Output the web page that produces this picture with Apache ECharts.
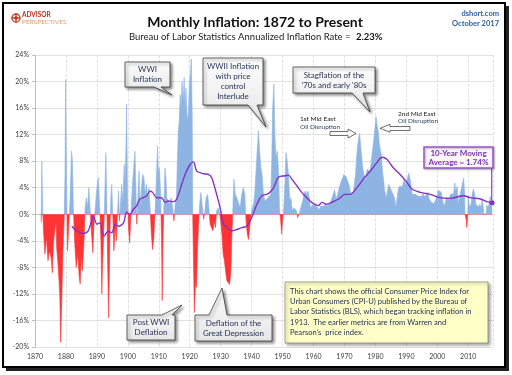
<!DOCTYPE html>
<html>
<head>
<meta charset="utf-8">
<script src="https://cdn.jsdelivr.net/npm/echarts/dist/echarts.min.js"></script>
<style>
  html, body { margin: 0; padding: 0; background: #fff; }
  #chart { width: 512px; height: 375px; }
</style>
</head>
<body>
<div id="chart"></div>
<script>
// monthly yoy inflation (fractional years)
const infYears = [
  1872.0, 1872.2, 1872.5, 1872.8, 1873.2, 1873.7, 1874.2, 1874.6, 1875.2, 1875.6,
  1876.0, 1876.4, 1876.8, 1877.0, 1877.5, 1878.0, 1878.3, 1878.7, 1879.0, 1879.4,
  1879.7, 1879.9, 1880.2, 1880.5, 1880.9, 1881.3, 1881.8, 1882.1, 1882.4, 1882.8,
  1883.3, 1883.8, 1884.3, 1884.6, 1885.0, 1885.3, 1885.8, 1886.2, 1886.6, 1887.0,
  1887.4, 1887.8, 1888.2, 1888.7, 1889.0, 1889.4, 1889.8, 1890.2, 1890.5, 1890.9,
  1891.3, 1891.6, 1891.8, 1892.2, 1892.5, 1892.9, 1893.2, 1893.5, 1893.8, 1894.2,
  1894.5, 1894.8, 1895.1, 1895.5, 1895.9, 1896.3, 1896.7, 1897.0, 1897.3, 1897.7,
  1898.0, 1898.4, 1898.8, 1899.1, 1899.4, 1899.6, 1899.9, 1900.2, 1900.6, 1900.9,
  1901.3, 1901.8, 1902.3, 1902.6, 1902.9, 1903.3, 1903.6, 1904.0, 1904.4, 1904.8,
  1905.2, 1905.6, 1906.0, 1906.4, 1906.8, 1907.2, 1907.6, 1908.0, 1908.4, 1908.8,
  1909.2, 1909.6, 1909.9, 1910.2, 1910.6, 1910.9, 1911.1, 1911.4, 1911.7, 1912.0,
  1912.3, 1912.6, 1913.0, 1913.5, 1914.0, 1914.5, 1914.9, 1915.3, 1915.7, 1916.0,
  1916.3, 1916.6, 1916.9, 1917.2, 1917.5, 1917.9, 1918.2, 1918.5, 1918.8, 1919.2,
  1919.6, 1919.9, 1920.2, 1920.5, 1920.8, 1921.0, 1921.5, 1921.9, 1922.2, 1922.5,
  1922.9, 1923.2, 1923.6, 1924.0, 1924.5, 1924.9, 1925.3, 1925.8, 1926.2, 1926.6,
  1927.0, 1927.5, 1928.0, 1928.3, 1928.7, 1929.2, 1929.6, 1930.0, 1930.4, 1930.8,
  1931.2, 1931.7, 1932.0, 1932.4, 1932.9, 1933.3, 1933.6, 1933.9, 1934.0, 1934.3,
  1934.7, 1935.2, 1935.7, 1936.3, 1936.8, 1937.3, 1937.8, 1938.2, 1938.6, 1939.0,
  1939.4, 1939.8, 1940.2, 1940.6, 1941.0, 1941.6, 1942.0, 1942.2, 1942.6, 1943.0,
  1943.4, 1943.8, 1944.3, 1944.8, 1945.3, 1945.8, 1946.2, 1946.5, 1946.8, 1947.2,
  1947.5, 1947.9, 1948.3, 1948.7, 1949.0, 1949.4, 1949.7, 1950.0, 1950.4, 1950.8,
  1951.1, 1951.5, 1951.9, 1952.3, 1952.7, 1953.1, 1953.6, 1954.0, 1954.5, 1954.9,
  1955.2, 1955.6, 1956.0, 1956.5, 1956.9, 1957.3, 1957.8, 1958.2, 1958.6, 1959.0,
  1959.5, 1959.9, 1960.3, 1960.8, 1961.3, 1961.8, 1962.3, 1962.8, 1963.3, 1963.8,
  1964.3, 1964.8, 1965.3, 1965.8, 1966.3, 1966.8, 1967.3, 1967.8, 1968.3, 1968.8,
  1969.3, 1969.8, 1970.2, 1970.6, 1971.0, 1971.5, 1971.9, 1972.4, 1972.9, 1973.3,
  1973.6, 1973.9, 1974.3, 1974.6, 1974.9, 1975.3, 1975.6, 1975.9, 1976.3, 1976.6,
  1976.9, 1977.3, 1977.7, 1978.2, 1978.6, 1978.9, 1979.3, 1979.6, 1979.9, 1980.2,
  1980.5, 1980.9, 1981.3, 1981.6, 1981.9, 1982.3, 1982.7, 1982.9, 1983.3, 1983.5,
  1983.9, 1984.3, 1984.7, 1985.2, 1985.7, 1986.2, 1986.6, 1986.9, 1987.3, 1987.7,
  1988.2, 1988.7, 1989.3, 1989.8, 1990.3, 1990.8, 1991.1, 1991.5, 1991.9, 1992.4,
  1992.9, 1993.4, 1993.9, 1994.4, 1994.9, 1995.4, 1995.9, 1996.4, 1996.9, 1997.4,
  1997.9, 1998.4, 1998.9, 1999.4, 1999.9, 2000.3, 2000.8, 2001.3, 2001.8, 2002.2,
  2002.6, 2003.0, 2003.5, 2003.9, 2004.4, 2004.8, 2005.2, 2005.7, 2005.9, 2006.4,
  2006.8, 2007.2, 2007.6, 2007.9, 2008.3, 2008.5, 2008.8, 2008.95, 2009.3, 2009.55,
  2009.8, 2010.0, 2010.4, 2010.9, 2011.3, 2011.7, 2012.1, 2012.5, 2012.9, 2013.3,
  2013.7, 2014.1, 2014.5, 2014.9, 2015.1, 2015.4, 2015.8, 2016.0, 2016.4, 2016.8,
  2017.1, 2017.4, 2017.7
];
const infValues = [
  -1.2, 8.0, 0.5, -3.0, -6.0, -3.5, -7.0, -5.5, -6.5, -8.8,
  -4.0, -2.5, -1.0, -5.0, -8.0, -12.0, -19.3, -12.0, -6.0, -1.0,
  6.0, 20.3, 5.0, -5.5, -2.0, 2.0, 9.5, 8.0, 1.0, -4.0,
  -8.0, -6.0, -9.5, -10.5, -6.0, -8.5, -4.5, 1.0, 2.5, 1.0,
  4.0, 1.0, -2.5, -5.8, -2.0, 0.5, 3.0, 4.8, 5.5, 1.0,
  -4.0, -12.0, -8.0, -3.0, 2.0, 9.3, 2.0, -8.0, -15.6, -3.0,
  2.5, 4.5, 0.5, -5.5, -2.0, -4.0, 0.5, 3.5, -1.0, 2.0,
  4.5, 1.5, 7.5, 5.0, 10.0, 16.6, 3.0, -2.0, -4.3, -1.0,
  3.0, 6.5, 9.5, 4.0, -1.5, 3.0, 6.5, 1.0, 4.0, 6.0,
  5.5, 3.0, 4.5, 2.5, 4.0, 1.0, -3.0, -5.3, -3.5, 0.5,
  5.0, 10.3, 6.0, 7.0, 3.0, -4.0, -13.0, -3.0, 2.0, 7.0,
  5.5, 2.5, 2.5, 1.5, 2.5, 1.0, -1.0, 1.5, 2.5, 8.0,
  12.5, 14.0, 18.0, 16.0, 20.0, 17.0, 20.6, 16.0, 19.0, 14.0,
  15.5, 20.0, 21.0, 23.4, 15.0, -1.0, -14.8, -10.0, -11.0, -5.5,
  -1.0, 1.5, 3.3, 1.5, -0.75, 0.5, 2.5, 3.0, 1.0, -1.5,
  -2.0, -2.5, -1.0, -2.0, 0.5, 1.0, 0.3, -1.0, -3.0, -6.0,
  -7.0, -9.0, -10.0, -10.0, -10.6, -8.5, -3.5, 0.0, 2.0, 5.3,
  3.0, 2.5, 2.5, 1.0, 3.0, 4.0, 3.0, -1.0, -3.0, -3.8,
  -2.0, 0.0, 1.0, 1.5, 3.0, 8.0, 11.0, 12.6, 9.5, 7.0,
  6.0, 3.0, 2.0, 2.0, 2.5, 2.2, 3.0, 8.0, 16.0, 19.6,
  12.0, 8.5, 9.5, 6.5, 1.0, -1.0, -3.0, -1.0, 1.0, 5.0,
  9.3, 8.0, 6.0, 2.0, 2.5, 0.5, 1.0, 1.0, 0.5, -0.5,
  -0.75, 0.5, 0.5, 2.0, 3.0, 3.5, 3.0, 3.5, 2.5, 1.0,
  1.0, 1.5, 1.5, 1.3, 1.0, 0.7, 1.2, 1.3, 1.2, 1.6,
  1.2, 1.2, 1.6, 1.9, 2.9, 3.7, 2.3, 3.0, 4.0, 4.8,
  5.3, 6.0, 6.2, 5.6, 5.0, 4.4, 3.4, 3.0, 3.4, 5.0,
  6.0, 8.5, 10.5, 11.5, 12.2, 10.0, 8.5, 7.0, 6.0, 5.5,
  5.0, 6.8, 6.5, 6.5, 7.7, 9.0, 10.5, 11.8, 13.3, 14.7,
  13.5, 12.5, 10.5, 10.8, 9.0, 6.5, 5.0, 3.8, 3.5, 2.5,
  3.5, 4.5, 4.2, 3.5, 3.3, 2.5, 1.0, 1.3, 3.5, 4.2,
  4.0, 4.2, 5.2, 4.5, 4.7, 6.2, 5.5, 4.5, 3.0, 3.0,
  3.0, 3.2, 2.7, 2.5, 2.7, 3.1, 2.6, 2.9, 3.3, 2.3,
  1.9, 1.6, 1.6, 2.1, 2.7, 3.6, 3.5, 3.3, 1.9, 1.2,
  1.8, 2.6, 2.1, 2.0, 3.1, 3.4, 3.0, 4.7, 3.4, 4.2,
  1.5, 2.6, 2.4, 4.1, 4.0, 5.5, 3.5, 0.1, -0.7, -2.0,
  -0.2, 2.7, 1.1, 1.5, 3.2, 3.8, 2.9, 1.5, 1.7, 1.1,
  1.5, 1.1, 2.1, 0.8, -0.1, 0.0, 0.2, 1.4, 1.0, 1.7,
  2.7, 1.6, 2.2
];

// 10-year moving average
const maYears = [
  1881.9, 1883.5, 1885.6, 1887.2, 1888.9, 1890.0, 1891.0, 1892.3, 1893.7, 1894.8,
  1895.9, 1897.0, 1898.6, 1899.6, 1900.7, 1901.8, 1902.9, 1903.9, 1905.0, 1906.1,
  1907.2, 1908.0, 1909.3, 1910.9, 1912.0, 1913.1, 1914.7, 1915.8, 1917.4, 1918.5,
  1920.1, 1921.2, 1922.3, 1924.5, 1926.0, 1927.1, 1928.7, 1929.8, 1930.9, 1932.0,
  1933.6, 1935.2, 1936.8, 1938.4, 1940.0, 1941.7, 1943.3, 1945.4, 1947.1, 1948.7,
  1950.8, 1951.9, 1953.0, 1954.6, 1956.2, 1957.8, 1959.4, 1960.5, 1961.6, 1962.7,
  1964.3, 1965.9, 1968.1, 1970.2, 1971.8, 1974.0, 1976.1, 1978.3, 1980.5, 1982.1,
  1983.7, 1985.8, 1988.0, 1990.2, 1991.8, 1994.5, 1997.7, 2000.9, 2004.2, 2008.5,
  2010.6, 2013.9, 2016.0, 2017.7
];
const maValues = [
  -1.8, -2.5, -2.9, -2.5, -0.3, -1.5, -1.3, -3.3, -2.5, -2.8,
  -1.5, -1.8, -1.3, 0.3, 0.0, 0.75, 1.3, 2.3, 2.5, 2.8,
  3.5, 3.3, 2.5, 2.5, 1.8, 2.0, 1.9, 2.3, 4.5, 6.0,
  7.5, 7.9, 6.5, 6.1, 6.0, 5.5, 3.0, 1.0, -1.5, -2.0,
  -2.5, -2.3, -2.0, -1.8, -0.5, 1.5, 2.8, 3.1, 4.0, 5.6,
  5.8, 5.9, 5.3, 4.3, 3.3, 2.5, 1.8, 1.5, 1.3, 1.8,
  1.5, 1.8, 2.3, 3.0, 3.0, 4.0, 5.3, 6.5, 7.8, 8.6,
  8.3, 7.0, 6.0, 4.8, 3.8, 3.3, 3.0, 2.5, 2.4, 2.8,
  2.5, 2.3, 1.9, 1.74
];

const textColor = "#1f2d50";
const calloutFill = new echarts.graphic.LinearGradient(0, 0, 0, 1, [
  { offset: 0, color: "#fdfdfd" },
  { offset: 1, color: "#e6e6e6" }
]);

// callout box with a pointer, as one outline
function callout(points, lines, cx, cy) {
  return [
    {
      type: "polygon",
      shape: { points: points },
      style: {
        fill: calloutFill, stroke: "#3a3a3a", lineWidth: 0.8,
        shadowBlur: 3, shadowColor: "rgba(0,0,0,0.45)", shadowOffsetX: 2, shadowOffsetY: 2
      },
      z: 20
    },
    {
      type: "text",
      style: {
        text: lines.join("\n"), x: cx, y: cy, font: "8px Lato", fill: textColor,
        textAlign: "center", textVerticalAlign: "middle", align: "center", verticalAlign: "middle",
        lineHeight: 10
      },
      z: 21
    }
  ];
}

function arrow(points) {
  return {
    type: "polygon",
    shape: { points: points },
    style: { fill: "#fafafa", stroke: "#333", lineWidth: 0.7 },
    z: 20
  };
}

function label(text, x, y, font, fill, align) {
  return {
    type: "text",
    style: {
      text: text, x: x, y: y, font: font, fill: fill,
      textAlign: align, textVerticalAlign: "middle", align: align, verticalAlign: "middle"
    },
    z: 21
  };
}

let graphics = [
  // frame with shadow
  { type: "polyline", shape: { points: [[507, 6], [507, 369], [6, 369]] }, style: { stroke: "#222", lineWidth: 4, fill: null }, z: 30 },
  { type: "rect", shape: { x: 3, y: 3, width: 502, height: 364 }, style: { fill: null, stroke: "#000", lineWidth: 2 }, z: 30 },
  // logo
  { type: "circle", shape: { cx: 16, cy: 18, r: 4 }, style: { fill: "#fff", stroke: "#c23b22", lineWidth: 1.3 }, z: 21 },
  { type: "polygon", shape: { points: [[16, 12], [17, 17], [22, 18], [17, 19], [16, 24], [15, 19], [10, 18], [15, 17]] }, style: { fill: "#c23b22" }, z: 22 },
  label("ADVISOR", 22, 15, "bold 6.5px Lato", "#b5321f", "left"),
  label("PERSPECTIVES", 22, 22, "6.5px Lato", "#e19a6a", "left"),
  // titles
  label("Monthly Inflation: 1872 to Present", 255, 22, "bold 14px Lato", "#111", "center"),
  label("Bureau of Labor Statistics Annualized Inflation Rate = ", 353, 37, "9.5px Lato", "#222", "right"),
  label("2.23%", 356, 37, "bold 9.5px Lato", "#111", "left"),
  label("dshort.com", 499, 14, "bold 7.5px Lato", "#2a5ea8", "right"),
  label("October 2017", 499, 24, "bold 7.5px Lato", "#2a5ea8", "right"),
  // oil disruptions
  label("1st Mid East", 300, 119, "6.5px Lato", "#222", "left"),
  label("Oil Disruption", 300, 126.5, "6.5px Lato", "#2c3e5c", "left"),
  arrow([[330, 131.5], [348, 131.5], [348, 129], [356, 133.5], [348, 138], [348, 135.5], [330, 135.5]]),
  label("2nd Mid East", 398, 113.5, "6.5px Lato", "#222", "left"),
  label("Oil Disruption", 398, 121, "6.5px Lato", "#2c3e5c", "left"),
  arrow([[380, 128.3], [390, 124.3], [390, 126.5], [410, 126.5], [410, 130.5], [390, 130.5], [390, 132.3]]),
  // moving average note
  { type: "line", shape: { x1: 491.7, y1: 168, x2: 491.7, y2: 200 }, style: { stroke: "#8e3fc2", lineWidth: 1.2 }, z: 20 },
  {
    type: "rect", shape: { x: 424, y: 147, width: 69, height: 21 },
    style: { fill: "#fbf7fd", stroke: "#9a55c8", lineWidth: 1.5, shadowBlur: 2, shadowColor: "rgba(0,0,0,0.3)", shadowOffsetX: 1, shadowOffsetY: 1 },
    z: 20
  },
  label("10-Year Moving", 458.5, 153, "bold 8px Lato", "#7a2fb0", "center"),
  label("Average = 1.74%", 458.5, 162.5, "bold 8px Lato", "#7a2fb0", "center"),
  // note box
  {
    type: "rect", shape: { x: 285, y: 282, width: 203, height: 61 },
    style: { fill: "#ffffc8", stroke: "#8c8c6a", lineWidth: 0.8, shadowBlur: 3, shadowColor: "rgba(0,0,0,0.35)", shadowOffsetX: 2, shadowOffsetY: 2 },
    z: 20
  },
  {
    type: "text",
    style: {
      text: "This chart shows the official Consumer Price Index for\nUrban Consumers (CPI-U) published by the Bureau of\nLabor Statistics (BLS), which began tracking inflation in\n1913.  The earlier metrics are from Warren and\nPearson's  price index.",
      x: 290, y: 286, font: "7.6px Lato", fill: textColor, lineHeight: 10.4,
      textAlign: "left", textVerticalAlign: "top", align: "left", verticalAlign: "top"
    },
    z: 21
  }
];

graphics = graphics
  .concat(callout([[125, 62], [170, 62], [170, 87], [161, 87], [172, 95], [154, 87], [125, 87]], ["WWI", "Inflation"], 147.5, 74.5))
  .concat(callout([[203, 58], [263, 58], [263, 105], [257, 105], [266, 127], [248, 105], [203, 105]], ["WWII Inflation", "with price", "control", "Interlude"], 233, 81.5))
  .concat(callout([[293, 67], [375, 67], [375, 93], [363, 93], [370, 112], [352, 93], [293, 93]], ["Stagflation of the", "'70s and early '80s"], 334, 80))
  .concat(callout([[127, 315], [162, 315], [182, 305], [172, 315], [175, 315], [175, 340], [127, 340]], ["Post WWI", "Deflation"], 151, 327.5))
  .concat(callout([[195, 315], [209, 315], [222, 288], [227, 315], [272, 315], [272, 341], [195, 341]], ["Deflation of the", "Great Depression"], 233.5, 328));

let myChart = echarts.init(document.getElementById("chart"));
const option = {
  animation: false,
  grid: { left: 35, right: 19, top: 55, bottom: 28 },
  xAxis: {
    type: "value",
    min: 1870,
    max: 2018,
    interval: 10,
    axisLine: { show: true, lineStyle: { color: "#bfbfbf" } },
    axisTick: { show: false },
    axisLabel: {
      fontSize: 7, color: "#404040", fontFamily: "Lato", margin: 6,
      showMaxLabel: false,
      formatter: function (v) { return String(v); }
    },
    splitLine: { show: true, lineStyle: { color: "#d9d9d9", type: "dashed", width: 0.8 } }
  },
  yAxis: {
    type: "value",
    min: -20,
    max: 24,
    interval: 4,
    axisLine: { show: true, lineStyle: { color: "#bfbfbf" } },
    axisTick: { show: true, length: 3, lineStyle: { color: "#bfbfbf" } },
    axisLabel: { fontSize: 7, color: "#404040", fontFamily: "Lato", margin: 6, formatter: "{value}%" },
    splitLine: { show: true, lineStyle: { color: "#d9d9d9", width: 0.8 } }
  },
  visualMap: {
    show: false,
    type: "piecewise",
    seriesIndex: 0,
    dimension: 1,
    pieces: [
      { gte: -30, lt: 0, color: "#ff3333" },
      { gte: 0, lte: 30, color: "#8db4e2" }
    ]
  },
  series: [
    {
      name: "Inflation",
      type: "line",
      data: infYears.map((y, i) => [y, infValues[i]]),
      showSymbol: false,
      lineStyle: { width: 0.6 },
      areaStyle: { opacity: 1 },
      z: 2
    },
    {
      name: "10-Year Moving Average",
      type: "line",
      data: maYears.map((y, i) => [y, maValues[i]]),
      smooth: 0.3,
      showSymbol: false,
      lineStyle: { color: "#8432c0", width: 1.4 },
      itemStyle: { color: "#8432c0" },
      markPoint: {
        symbol: "circle",
        symbolSize: 5,
        label: { show: false },
        itemStyle: { color: "#8432c0" },
        data: [{ coord: [maYears[maYears.length - 1], maValues[maValues.length - 1]] }]
      },
      z: 3
    }
  ],
  graphic: graphics
};

myChart.setOption(option);
</script>
</body>
</html>
